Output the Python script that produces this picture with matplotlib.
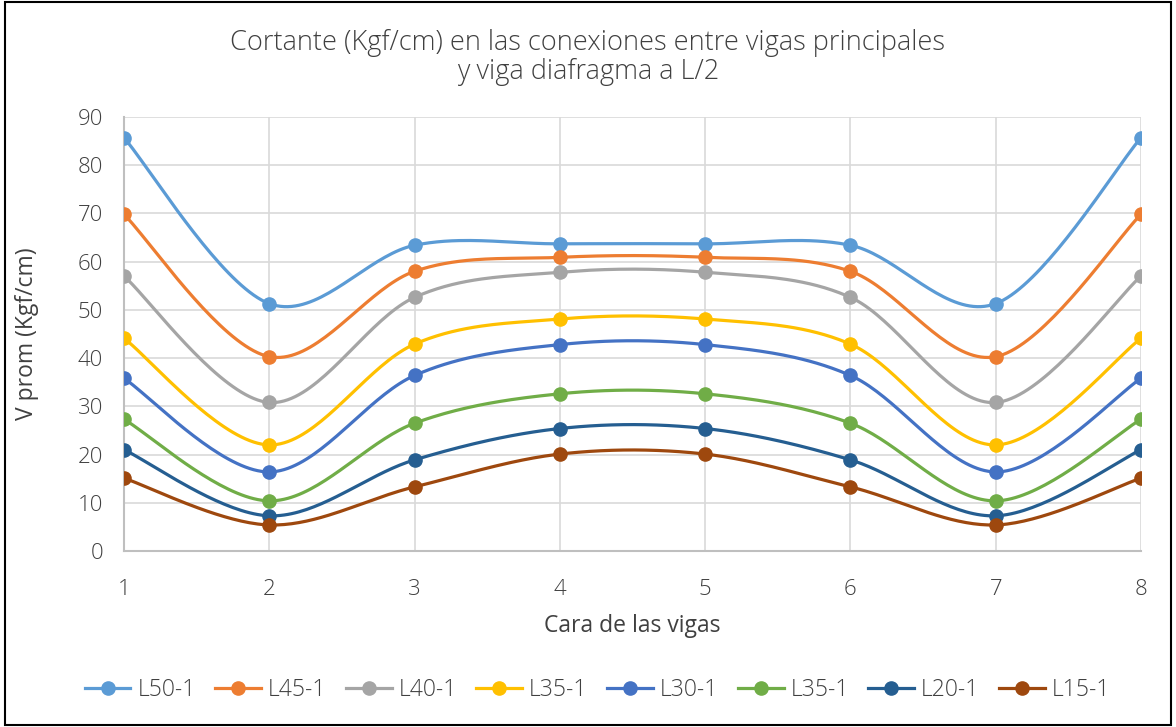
import numpy as np
import matplotlib
matplotlib.use("Agg")
import matplotlib.pyplot as plt
from matplotlib.patches import Rectangle
from matplotlib.lines import Line2D
from matplotlib import font_manager

# Data: shear (Kgf/cm) at each beam face
caras = [1, 2, 3, 4, 5, 6, 7, 8]
series_names = ["L50-1", "L45-1", "L40-1", "L35-1", "L30-1", "L35-1", "L20-1", "L15-1"]
L50 = [85.7, 51.3, 63.4, 63.7, 63.7, 63.4, 51.3, 85.7]
L45 = [69.8, 40.3, 58.0, 60.9, 60.9, 58.0, 40.3, 69.8]
L40 = [57.0, 30.8, 52.6, 57.8, 57.8, 52.6, 30.8, 57.0]
L35 = [44.1, 22.0, 42.9, 48.1, 48.1, 42.9, 22.0, 44.1]
L30 = [35.8, 16.4, 36.4, 42.8, 42.8, 36.4, 16.4, 35.8]
L35b = [27.3, 10.4, 26.5, 32.6, 32.6, 26.5, 10.4, 27.3]
L20 = [21.0, 7.3, 18.9, 25.4, 25.4, 18.9, 7.3, 21.0]
L15 = [15.1, 5.4, 13.3, 20.1, 20.1, 13.3, 5.4, 15.1]
all_series = [L50, L45, L40, L35, L30, L35b, L20, L15]
colors = ["#5B9BD5", "#ED7D31", "#A5A5A5", "#FFC000",
          "#4472C4", "#70AD47", "#255E91", "#9E480E"]

available = {f.name for f in font_manager.fontManager.ttflist}
fam = [f for f in ["Open Sans", "DejaVu Sans"] if f in available]
plt.rcParams["font.family"] = fam
plt.rcParams["font.weight"] = "light"

TXT = "#404040"


def smooth(x, y, n=40):
    """Catmull-Rom style Bezier smoothing through every point."""
    P = np.column_stack([np.asarray(x, float), np.asarray(y, float)])
    Pext = np.vstack([P[0], P, P[-1]])
    out = []
    t = np.linspace(0, 1, n)[:, None]
    for i in range(len(P) - 1):
        p0, p1, p2, p3 = Pext[i], Pext[i + 1], Pext[i + 2], Pext[i + 3]
        c1 = p1 + (p2 - p0) / 6.0
        c2 = p2 - (p3 - p1) / 6.0
        seg = ((1 - t) ** 3) * p1 + 3 * ((1 - t) ** 2) * t * c1 + 3 * (1 - t) * t ** 2 * c2 + t ** 3 * p2
        out.append(seg if i == 0 else seg[1:])
    s = np.vstack(out)
    return s[:, 0], s[:, 1]


fig = plt.figure(figsize=(11.76, 7.27), dpi=100)
ax = fig.add_axes([124 / 1176, 1 - 551 / 727, (1141 - 124) / 1176, (551 - 117) / 727])

for vals, col in zip(all_series, colors):
    xs, ys = smooth(caras, vals)
    ax.plot(xs, ys, color=col, lw=2.3, solid_capstyle="round", zorder=3)
    ax.plot(caras, vals, "o", color=col, ms=9.5, zorder=4)

ax.set_xlim(1, 8)
ax.set_ylim(0, 90)
ax.set_xticks(caras)
ax.set_yticks(range(0, 91, 10))
ax.grid(True, color="#D9D9D9", lw=1.2)
ax.set_axisbelow(True)
for s in ["top", "right"]:
    ax.spines[s].set_visible(False)
for s in ["left", "bottom"]:
    ax.spines[s].set_color("#BFBFBF")
    ax.spines[s].set_linewidth(1.5)
ax.tick_params(axis="both", length=0, labelsize=16, colors=TXT)
ax.tick_params(axis="x", pad=20)
ax.tick_params(axis="y", pad=15)
ax.set_xlabel("Cara de las vigas", fontsize=16.5, color=TXT, labelpad=10)
ax.set_ylabel("V prom (Kgf/cm)", fontsize=16.5, color=TXT, labelpad=28)

fig.text(0.5, 0.921, "Cortante (Kgf/cm) en las conexiones entre vigas principales\ny viga diafragma a L/2",
         ha="center", va="center", fontsize=19.5, color=TXT, linespacing=1.08)

handles = [Line2D([0], [0], color=c, lw=2.3, marker="o", ms=9.5) for c in colors]
fig.legend(handles, series_names, loc="center", bbox_to_anchor=(0.508, 0.051), ncol=8,
           frameon=False, fontsize=16.5, handlelength=2.0, handletextpad=0.3, columnspacing=0.85,
           labelcolor=TXT)

fig.patches.append(Rectangle((0.004, 0.003), 0.992, 0.994, transform=fig.transFigure,
                             fill=False, edgecolor="black", lw=1.5))

fig.savefig("out.png", dpi=100)
